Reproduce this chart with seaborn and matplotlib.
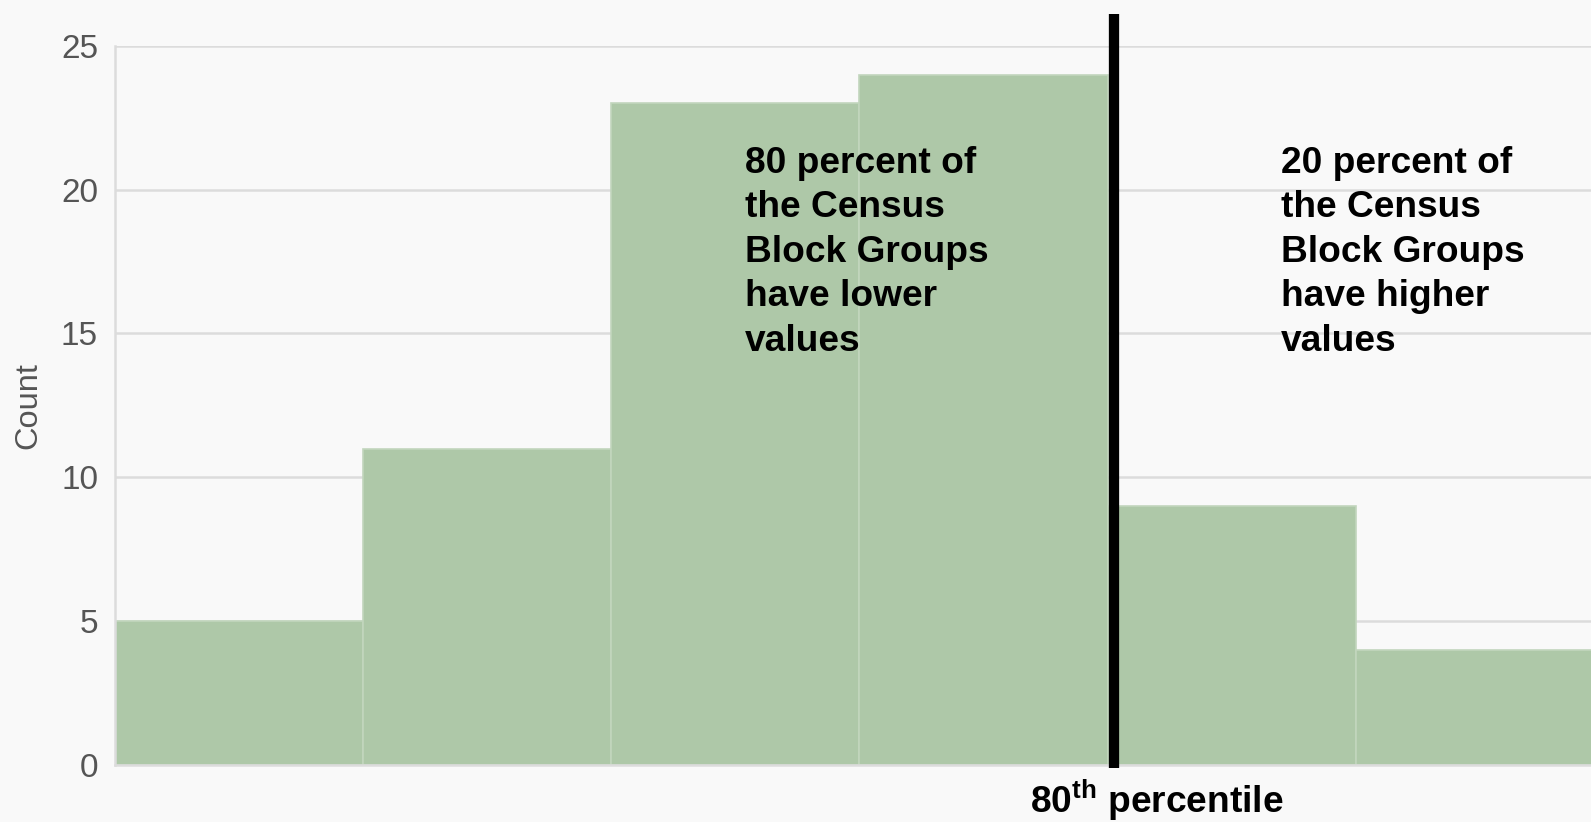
import numpy as np
import pandas as pd
import matplotlib
matplotlib.use("Agg")
import matplotlib.pyplot as plt
import seaborn as sns

# histogram bins (index of bin) and counts
bin_centers = [0.5, 1.5, 2.5, 3.5, 4.5, 5.5]
counts = [5, 11, 23, 24, 9, 4]
bin_edges = [0, 1, 2, 3, 4, 5, 6]
percentile_80 = 4.026
y_ticks = [0, 5, 10, 15, 20, 25]

left_note = "80 percent of\nthe Census\nBlock Groups\nhave lower\nvalues"
right_note = "20 percent of\nthe Census\nBlock Groups\nhave higher\nvalues"

sns.set_style("whitegrid", {
    "axes.facecolor": "#f9f9f9",
    "figure.facecolor": "#f9f9f9",
    "grid.color": "#dcdcdc",
    "axes.edgecolor": "#dcdcdc",
})
plt.rcParams["font.family"] = ["Liberation Sans", "DejaVu Sans"]
plt.rcParams["mathtext.fontset"] = "custom"
plt.rcParams["mathtext.rm"] = "Liberation Sans:bold"
plt.rcParams["mathtext.bf"] = "Liberation Sans:bold"

df = pd.DataFrame({"bin": bin_centers, "count": counts})

fig = plt.figure(figsize=(15.91, 8.22), dpi=100)
ax = fig.add_axes([0.0721, 0.0693, 0.9279, 0.875])

sns.histplot(data=df, x="bin", weights="count", bins=bin_edges, ax=ax,
             color="#aec8a8", alpha=1.0, edgecolor="#c2d6bd", linewidth=1.2)

ax.set_xlim(0, 5.948)
ax.set_ylim(0, 25)
ax.set_yticks(y_ticks)
ax.grid(axis="y", color="#dcdcdc", linewidth=1.8)
ax.grid(axis="x", visible=False)
ax.set_axisbelow(True)
ax.set_xticks([])
ax.set_xlabel("")
ax.set_ylabel("Count", fontsize=23.4, color="#555555")
ax.yaxis.set_label_coords(-0.0482, 0.5)
ax.tick_params(axis="y", labelsize=24, labelcolor="#555555", length=0, pad=12)
for side in ["top", "right"]:
    ax.spines[side].set_visible(False)
ax.spines["left"].set_color("#dcdcdc")
ax.spines["left"].set_linewidth(1.8)
ax.spines["bottom"].set_color("#dcdcdc")
ax.spines["bottom"].set_linewidth(1.8)

ax.plot([percentile_80, percentile_80], [-0.1, 26.1], color="black",
        linewidth=7.4, solid_capstyle="butt", clip_on=False, zorder=5)

ax.text(2.54, 21.52, left_note, fontsize=26.7, fontweight="bold",
        color="black", ha="left", va="top", linespacing=1.35)
ax.text(4.70, 21.52, right_note, fontsize=26.7, fontweight="bold",
        color="black", ha="left", va="top", linespacing=1.35)
ax.text(4.2, -1.68, "80$^{\\mathrm{th}}$ percentile", fontsize=26.7,
        fontweight="bold", color="black", ha="center", va="baseline",
        clip_on=False)

fig.savefig("out.png", dpi=100, facecolor=fig.get_facecolor())
